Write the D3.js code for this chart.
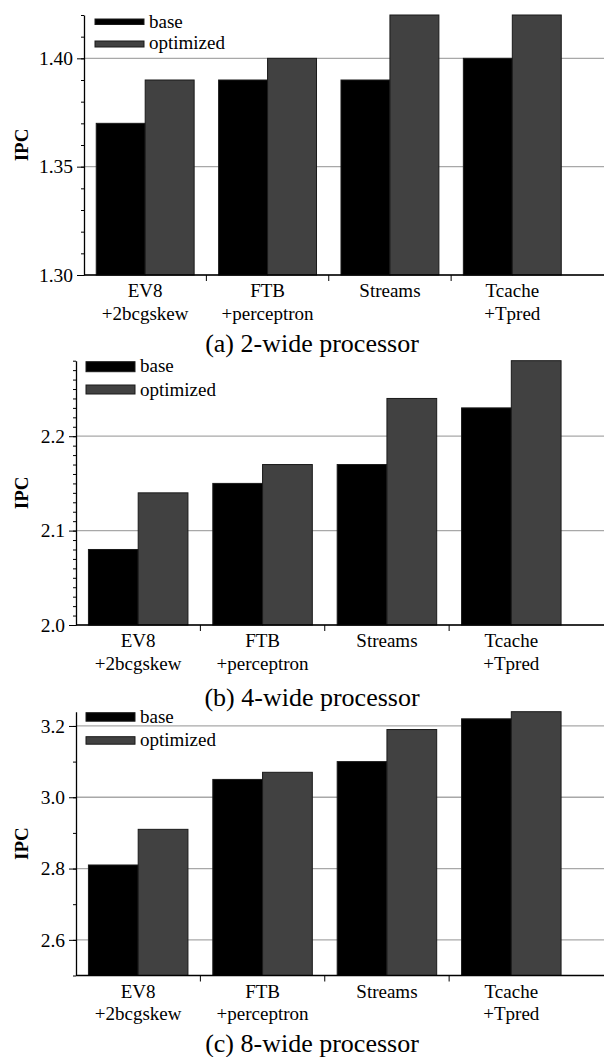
<!DOCTYPE html>
<html>
<head>
<meta charset="utf-8">
<script src="https://cdnjs.cloudflare.com/ajax/libs/d3/7.8.5/d3.min.js"></script>
<style>
  body { margin: 0; background: #fff; }
  svg, svg text, svg tspan { font-family: "Liberation Serif", "Times New Roman", Times, serif !important; }
</style>
</head>
<body>
<svg id="chart" width="604" height="1057"></svg>
<script>
    // categories (two text lines each)
    var catLine1 = ["EV8", "FTB", "Streams", "Tcache"];
    var catLine2 = ["+2bcgskew", "+perceptron", "", "+Tpred"];
    var seriesNames = ["base", "optimized"];

    // IPC values
    var base2 = [1.37, 1.39, 1.39, 1.40];
    var opt2 = [1.39, 1.40, 1.42, 1.42];
    var base4 = [2.08, 2.15, 2.17, 2.23];
    var opt4 = [2.14, 2.17, 2.24, 2.28];
    var base8 = [2.81, 3.05, 3.10, 3.22];
    var opt8 = [2.91, 3.07, 3.19, 3.24];

    // axis ticks
    var major2 = [1.30, 1.35, 1.40];
    var major4 = [2.0, 2.1, 2.2];
    var major8 = [2.6, 2.8, 3.0, 3.2];
    var captions = ["(a) 2-wide processor", "(b) 4-wide processor", "(c) 8-wide processor"];

    var W = 604;
    var FONT = "'Liberation Serif', 'Times New Roman', Times, serif";
    var colors = { base: "#000000", optimized: "#414141" };

    // layout of each panel
    var panels = [
        { base: base2, opt: opt2, major: major2, fmt: ".2f", dom: [1.30, 1.42], minorStep: 0.01,
          left: 84, top: 15, bottom: 275, capDy: 77, legY: [19, 41], legH: [5.5, 6], legTxt: [28, 49], legX: 95 },
        { base: base4, opt: opt4, major: major4, fmt: ".1f", dom: [2.0, 2.28], minorStep: 0.01,
          left: 76, top: 360.7, bottom: 625, capDy: 81, legY: [361.7, 385], legH: [10, 9], legTxt: [372, 396], legX: 86 },
        { base: base8, opt: opt8, major: major8, fmt: ".1f", dom: [2.5, 3.24], minorStep: 0.1,
          left: 76, top: 711.7, bottom: 975.5, capDy: 76, legY: [712.7, 736.7], legH: [8.5, 7.5], legTxt: [723, 746], legX: 86 }
    ];

    var svg = d3.select("#chart").attr("font-family", FONT);

    panels.forEach(function(p, pi) {
        var g = svg.append("g");
        var y = d3.scaleLinear().domain(p.dom).range([p.bottom, p.top]);
        var x = d3.scaleBand().domain(catLine1).range([p.left, 573.5]).paddingInner(0.2).paddingOuter(0.1);
        var xs = d3.scaleBand().domain(seriesNames).range([0, x.bandwidth()]);

        // minor ticks
        var minor = d3.range(Math.round(p.dom[0] / p.minorStep), Math.round(p.dom[1] / p.minorStep) + 1)
            .map(function(k) { return +(k * p.minorStep).toFixed(3); });

        // grid lines
        g.selectAll("line.grid").data(p.major).enter().append("line")
            .attr("class", "grid")
            .attr("x1", p.left).attr("x2", W)
            .attr("y1", function(d) { return y(d); })
            .attr("y2", function(d) { return y(d); })
            .attr("stroke", "#a8a8a8").attr("stroke-width", 1.3);

        // bars
        var rows = catLine1.map(function(c, i) {
            return [{ cat: c, s: "base", v: p.base[i] }, { cat: c, s: "optimized", v: p.opt[i] }];
        });
        g.selectAll("g.grp").data(rows).enter().append("g")
            .attr("transform", function(d) { return "translate(" + x(d[0].cat) + ",0)"; })
            .selectAll("rect").data(function(d) { return d; }).enter().append("rect")
            .attr("x", function(d) { return xs(d.s); })
            .attr("width", xs.bandwidth())
            .attr("y", function(d) { return y(d.v); })
            .attr("height", function(d) { return y(p.dom[0]) - y(d.v); })
            .attr("fill", function(d) { return colors[d.s]; })
            .attr("stroke", "#1a1a1a").attr("stroke-width", 1);

        // y axis: minor then major ticks
        g.append("g").attr("transform", "translate(" + p.left + ",0)")
            .call(d3.axisLeft(y).tickValues(minor).tickSize(3).tickSizeOuter(0).tickFormat(""))
            .call(function(a) {
                a.select(".domain").attr("stroke", "#000").attr("stroke-width", 1.3);
                a.selectAll(".tick line").attr("stroke", "#000");
            });
        g.append("g").attr("transform", "translate(" + p.left + ",0)")
            .call(d3.axisLeft(y).tickValues(p.major).tickSize(7).tickPadding(4).tickFormat(d3.format(p.fmt)))
            .attr("font-family", FONT)
            .call(function(a) {
                a.select(".domain").remove();
                a.selectAll(".tick line").attr("stroke", "#000");
                a.selectAll(".tick text").attr("font-size", "19.5px").attr("fill", "#000")
                    .attr("font-family", FONT);
            });

        // x baseline and separators
        g.append("line").attr("x1", p.left).attr("x2", W)
            .attr("y1", p.bottom).attr("y2", p.bottom)
            .attr("stroke", "#000").attr("stroke-width", 1.3);
        var seps = catLine1.slice(0, -1).map(function(c) { return x(c) + x.bandwidth() + x.step() * 0.1; });
        g.selectAll("line.sep").data(seps).enter().append("line")
            .attr("x1", function(d) { return d; }).attr("x2", function(d) { return d; })
            .attr("y1", p.bottom).attr("y2", p.bottom + 6)
            .attr("stroke", "#000");

        // category labels
        var lab = g.selectAll("text.cat").data(catLine1).enter().append("text")
            .attr("text-anchor", "middle").attr("font-size", "19px").attr("font-family", FONT);
        lab.append("tspan")
            .attr("x", function(d) { return x(d) + x.bandwidth() / 2; })
            .attr("y", p.bottom + 22)
            .text(function(d) { return d; });
        lab.append("tspan")
            .attr("x", function(d) { return x(d) + x.bandwidth() / 2; })
            .attr("y", p.bottom + 44.5)
            .text(function(d, i) { return catLine2[i]; });

        // y title
        g.append("text")
            .attr("transform", "translate(28," + ((p.top + p.bottom) / 2) + ") rotate(-90)")
            .attr("text-anchor", "middle").attr("font-size", "19px").attr("font-weight", "bold")
            .attr("font-family", FONT)
            .text("IPC");

        // legend
        seriesNames.forEach(function(s, si) {
            g.append("rect")
                .attr("x", p.legX).attr("y", p.legY[si])
                .attr("width", 49).attr("height", p.legH[si])
                .attr("fill", colors[s]).attr("stroke", "#1a1a1a").attr("stroke-width", 1);
            g.append("text")
                .attr("x", p.legX + 54).attr("y", p.legTxt[si])
                .attr("font-size", "19px").attr("font-family", FONT)
                .text(s);
        });

        // caption
        g.append("text")
            .attr("x", 312).attr("y", p.bottom + p.capDy)
            .attr("text-anchor", "middle").attr("font-size", "26px").attr("font-family", FONT)
            .text(captions[pi]);
    });
</script>
</body>
</html>
